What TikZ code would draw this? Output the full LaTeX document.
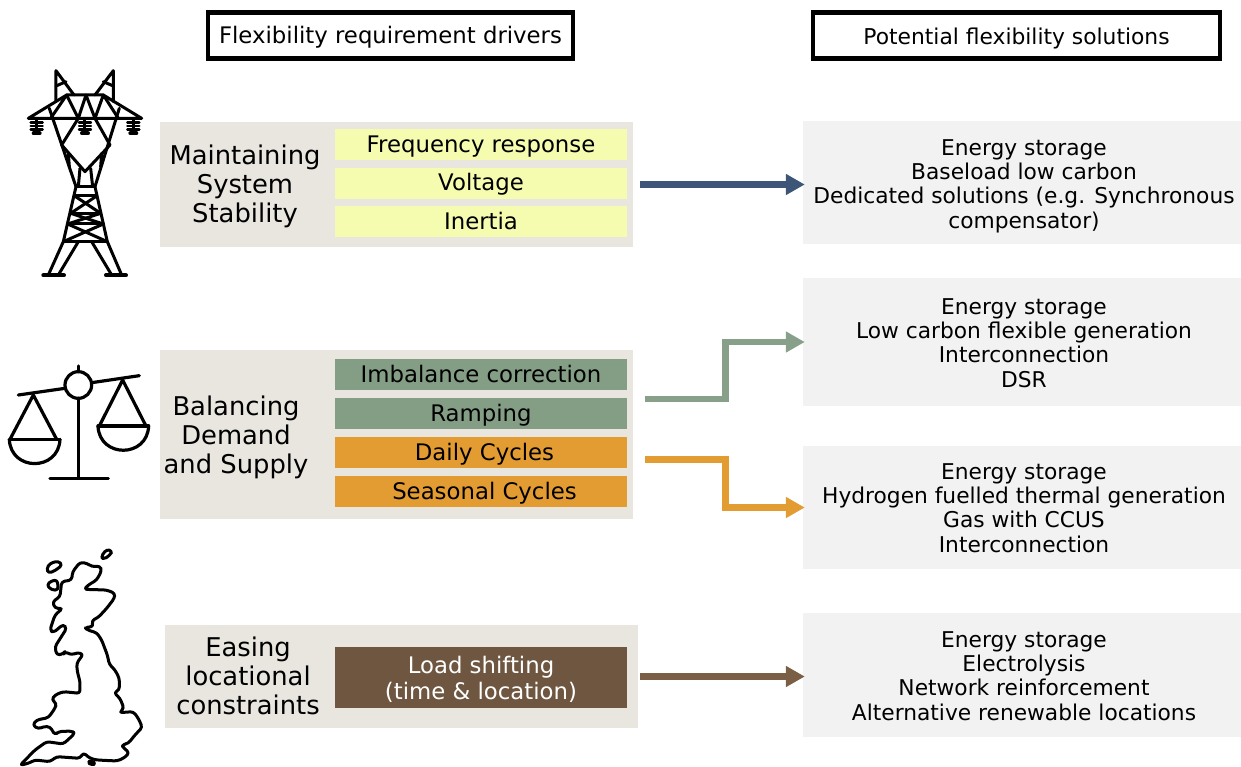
\documentclass[tikz,border=0pt]{standalone}
\usepackage{fontspec}
\setmainfont{DejaVu Sans}
\usetikzlibrary{arrows.meta}

\definecolor{panelgrey}{HTML}{E8E6DF}
\definecolor{solgrey}{HTML}{F2F2F2}
\definecolor{freqyellow}{HTML}{F5FCB0}
\definecolor{rampgreen}{HTML}{839E85}
\definecolor{cycleorange}{HTML}{E29C32}
\definecolor{loadbrown}{HTML}{6E5640}
\definecolor{stabblue}{HTML}{3D5577}
\definecolor{arrowgreen}{HTML}{88A08A}
\definecolor{arrowbrown}{HTML}{7A5F46}

\tikzset{
	headbox/.style={draw=black,line width=4.5pt,fill=white,inner sep=0pt,minimum height=46pt},
	panel/.style={fill=panelgrey,inner sep=0pt},
	panellabel/.style={align=center,inner sep=0pt,font=\fontsize{25.8}{29}\selectfont},
	barbox/.style={inner sep=0pt,minimum width=292pt,minimum height=31pt,text height=18pt,text depth=3pt,font=\fontsize{22.8}{26}\selectfont,align=center},
	solbox/.style={fill=solgrey,inner sep=0pt,minimum width=438pt},
	soltext/.style={inner sep=0pt,align=center,font=\fontsize{21.75}{24.4}\selectfont},
	flowarrow/.style={line width=6.5pt,-{Triangle[length=19pt,width=20pt]},shorten >=-2pt},
	icon/.style={line width=3pt,line cap=round,line join=round},
}

\begin{document}
\begin{tikzpicture}[x=1pt,y=-1pt]
	\useasboundingbox (0,0) rectangle (1241,766);

	%column headings
	\node[headbox,minimum width=365pt,text height=18.5pt,text depth=2.5pt,font=\fontsize{22.8}{26}\selectfont] (drivers) at (390.5,35.5) {Flexibility requirement drivers};
	\node[headbox,minimum width=407pt,text height=20.5pt,text depth=2pt,font=\fontsize{21.8}{26}\selectfont] (solutions) at (1016.5,35.5) {Potential flexibility solutions};

	%grey panels on left
	\node[panel,minimum width=473pt,minimum height=125pt] (stability) at (396.5,184.5) {};
	\node[panel,minimum width=473pt,minimum height=169pt] (balancing) at (396.5,434.5) {};
	\node[panel,minimum width=473pt,minimum height=103pt] (locational) at (401.5,676.5) {};

	\node[panellabel] (stabilitytext) at (245,186) {Maintaining\\System\\Stability};
	\node[panellabel] (balancingtext) at (236,437) {Balancing\\Demand\\and Supply};
	\node[panellabel] (locationaltext) at (248,676) {Easing\\locational\\constraints};

	%drivers
	\node[barbox,fill=freqyellow] (frequency) at (481,144.5) {Frequency response};
	\node[barbox,fill=freqyellow] (voltage) at (481,183) {Voltage};
	\node[barbox,fill=freqyellow] (inertia) at (481,221.5) {Inertia};

	\node[barbox,fill=rampgreen] (imbalance) at (481,374.5) {Imbalance correction};
	\node[barbox,fill=rampgreen] (ramping) at (481,413.5) {Ramping};
	\node[barbox,fill=cycleorange] (daily) at (481,452.5) {\hspace*{7pt}Daily Cycles};
	\node[barbox,fill=cycleorange] (seasonal) at (481,491.5) {\hspace*{7pt}Seasonal Cycles};

	\node[inner sep=0pt,minimum width=292pt,minimum height=61pt,fill=loadbrown,text=white,align=center,font=\fontsize{22.8}{26}\selectfont] (loadshift) at (481,677.5) {\rule{0pt}{21pt}Load shifting\\(time \& location)};

	%solutions on right
	\node[solbox,minimum height=123pt] (sol1) at (1022,182.5) {};
	\node[soltext] (sol1text) at (1024,186) {Energy storage\\Baseload low carbon\\Dedicated solutions (e.g. Synchronous\\compensator)};
	\node[solbox,minimum height=128pt] (sol2) at (1022,342) {};
	\node[soltext] (sol2text) at (1024,343) {Energy storage\\Low carbon flexible generation\\Interconnection\\DSR};
	\node[solbox,minimum height=123pt] (sol3) at (1022,507.5) {};
	\node[soltext] (sol3text) at (1024,508) {Energy storage\\Hydrogen fuelled thermal generation\\Gas with CCUS\\Interconnection};
	\node[solbox,minimum height=124pt] (sol4) at (1022,675) {};
	\node[soltext] (sol4text) at (1024,676) {Energy storage\\Electrolysis\\Network reinforcement\\Alternative renewable locations};

	%arrows
	\coordinate (greenstart) at (645,399);
	\coordinate (greenbend) at (725.5,370);
	\coordinate (orangestart) at (645,459.5);
	\coordinate (orangebend) at (725.5,480);
	\draw[flowarrow,stabblue,shorten <=7pt] (stability.east) -- (stability.east -| sol1.west);
	\draw[flowarrow,arrowgreen] (greenstart) -| (greenbend) |- (sol2.west);
	\draw[flowarrow,cycleorange] (orangestart) -| (orangebend) |- (sol3.west);
	\draw[flowarrow,arrowbrown,shorten <=2pt] (locational.east) -- (locational.east -| sol4.west);

	%pylon
	\begin{scope}[shift={(0,50)},x=0.3333pt,y=-0.3333pt,icon]
		\draw (168,155)--(168,62)--(222,135);
		\draw (340,155)--(340,62)--(285,135);
		\draw (168,108)--(198,95);
		\draw (340,108)--(310,95);
		\draw (85,205)--(200,135)--(310,135)--(425,205)--cycle;
		\draw (152,205)--(200,135)--(235,205)--(258,135)--(285,205)--(310,135)--(355,205);
		\draw (148,175)--(228,410)--(190,575)--(145,675);
		\draw (358,175)--(285,410)--(322,575)--(365,675);
		\draw (235,205)--(185,285)--(255,365)--(330,285)--(285,205);
		\draw (205,310)--(208,350);
		\draw (305,310)--(302,350);
		\draw (240,355)--(235,410);
		\draw (272,355)--(278,410);
		\draw (228,410)--(285,410);
		\draw (224,438)--(290,438);
		\draw (212,490)--(302,490);
		\draw (203,522)--(310,522);
		\draw (190,575)--(322,575);
		\draw (224,438)--(302,490);
		\draw (290,438)--(212,490);
		\draw (212,490)--(310,522);
		\draw (302,490)--(203,522);
		\draw (203,522)--(322,575);
		\draw (310,522)--(190,575);
		\draw (235,575)--(175,675);
		\draw (275,575)--(335,675);
		\draw[line width=4pt] (130,676)--(192,676);
		\draw[line width=4pt] (318,676)--(378,676);
		\foreach \ix in {110,255,400}{
			\draw (\ix,205)--(\ix,250);
			\draw[line width=2.4pt] (\ix-18,218)--(\ix+18,218);
			\draw[line width=2.4pt] (\ix-18,228)--(\ix+18,228);
			\draw[line width=2.4pt] (\ix-18,238)--(\ix+18,238);
			\draw[line width=4pt] (\ix-9,250)--(\ix+9,250);
		}
	\end{scope}

	%scales
	\begin{scope}[shift={(0,350)},x=0.3333pt,y=-0.3333pt,icon,line width=3.2pt]
		\draw (55,135)--(195,115);
		\draw (275,98)--(418,77);
		\draw (235,105) circle (40);
		\draw (235,65)--(235,48);
		\draw (235,145)--(235,385);
		\draw (150,385)--(325,385);
		\draw (30,268)--(100,135)--(170,268);
		\draw (28,268)--(180,268);
		\draw (28,268) .. controls (32,365) and (176,365) .. (180,268);
		\draw (298,228)--(368,90)--(438,228);
		\draw (294,228)--(446,228);
		\draw (294,228) .. controls (298,325) and (442,325) .. (446,228);
	\end{scope}

	%map of the UK
	\begin{scope}[shift={(0,530)},x=0.3333pt,y=-0.3333pt,icon,rounded corners=3pt]
		\draw (240,97)--(262,100)--(275,110)--(300,108)--(305,122)--(290,150)--(265,165)--(252,178)--(320,180)--(345,190)--(343,205)--(320,235)--(295,262)--(275,272)--(280,290)--(255,292)--(262,300)--(290,308)--(305,330)--(322,375)--(328,403)--(345,420)--(358,445)--(358,480)--(342,488)--(360,505)--(372,535)--(358,548)--(400,545)--(415,565)--(427,592)--(405,615)--(385,640)--(365,645)--(372,655)--(388,668)--(375,682)--(352,693)--(290,690)--(270,685)--(250,668)--(240,685)--(170,680)--(150,695)--(105,690)--(85,700)--(60,706)--(105,660)--(140,635)--(190,642)--(225,610)--(215,603)--(175,605)--(165,615)--(150,590)--(130,590)--(115,597)--(98,585)--(110,570)--(145,563)--(165,535)--(170,520)--(155,510)--(165,495)--(190,485)--(240,490)--(240,455)--(232,425)--(230,400)--(250,372)--(230,368)--(215,375)--(195,365)--(190,372)--(170,375)--(165,350)--(200,295)--(190,283)--(160,308)--(150,300)--(165,255)--(188,235)--(165,235)--(158,215)--(180,200)--(185,155)--(215,150)--(218,125)--cycle;
		\draw (140,115)--(150,100)--(175,93)--(187,105)--(165,122)--(145,130)--cycle;
		\draw (140,165)--(155,152)--(172,150)--(175,180)--(155,180)--cycle;
		\draw (303,80)--(320,58)--(337,63)--(330,75)--(312,88)--cycle;
		\draw (262,696)--(275,692)--(288,700)--(275,706)--cycle;
	\end{scope}
\end{tikzpicture}
\end{document}
